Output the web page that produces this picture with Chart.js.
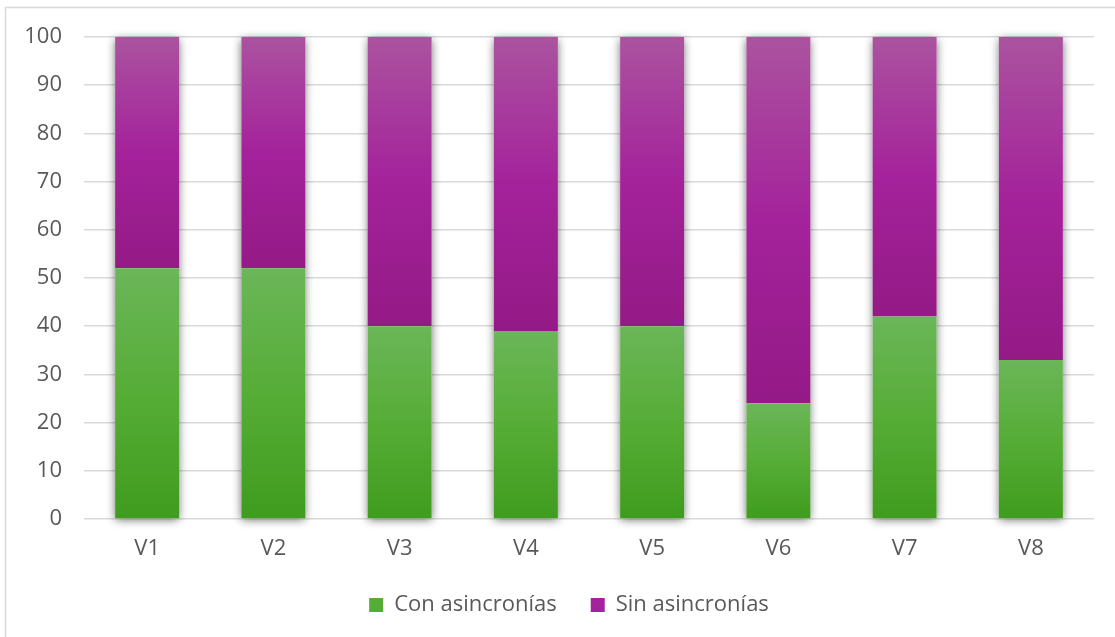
<!DOCTYPE html>
<html>
<head>
<meta charset="utf-8">
<script src="https://cdn.jsdelivr.net/npm/chart.js@4.4.1/dist/chart.umd.min.js"></script>
<style>
  html, body { margin: 0; padding: 0; background: #fff; }
  #wrap { width: 1115px; height: 637px; position: relative; }
</style>
</head>
<body>
<div id="wrap"><canvas id="c" width="1115" height="637"></canvas></div>
<script>
const categories = ['V1', 'V2', 'V3', 'V4', 'V5', 'V6', 'V7', 'V8'];
const conAsincronias = [52, 52, 40, 39, 40, 24, 42, 33];
const sinAsincronias = [48, 48, 60, 61, 60, 76, 58, 67];
const seriesNames = ['Con asincronías', 'Sin asincronías'];

const FONT = "'Open Sans', 'Liberation Sans', sans-serif";
const TEXT = '#595959';

const greenStops = [[0, '#6bb659'], [0.5, '#56ad36'], [1, '#3f9c1e']];
const purpleStops = [[0, '#ab539f'], [0.5, '#a4229b'], [1, '#941a86']];

// vertical gradient spanning one stacked segment
function segmentFill(stops, solid, lowerArr, upperFn) {
  return (ctx) => {
    const chart = ctx.chart;
    if (!chart.chartArea || ctx.dataIndex === undefined) return solid;
    const y = chart.scales.y;
    const i = ctx.dataIndex;
    const low = lowerArr ? lowerArr[i] : 0;
    const high = upperFn(i);
    const top = y.getPixelForValue(high);
    const bottom = y.getPixelForValue(low);
    const g = chart.ctx.createLinearGradient(0, top, 0, bottom);
    stops.forEach(([o, c]) => g.addColorStop(o, c));
    return g;
  };
}

// soft shadow under each full stack, painted before the bars
const stackShadow = {
  id: 'stackShadow',
  beforeDatasetsDraw(chart) {
    const ctx = chart.ctx;
    const m0 = chart.getDatasetMeta(0).data;
    const m1 = chart.getDatasetMeta(1).data;
    ctx.save();
    ctx.shadowColor = 'rgba(0,0,0,0.6)';
    ctx.shadowBlur = 9;
    ctx.shadowOffsetY = 2;
    ctx.fillStyle = '#ffffff';
    m0.forEach((bar, i) => {
      const top = m1[i].y;
      const bottom = bar.base;
      ctx.fillRect(bar.x - bar.width / 2, top, bar.width, bottom - top);
    });
    ctx.restore();
  }
};

// light frame around the chart; legend nudged to sit under the plot centre
const frame = {
  id: 'frame',
  afterLayout(chart) {
    if (chart.legend) {
      chart.legend.left += 22;
      chart.legend.right += 22;
    }
  },
  beforeDraw(chart) {
    const ctx = chart.ctx;
    ctx.save();
    ctx.fillStyle = '#ffffff';
    ctx.fillRect(0, 0, chart.width, chart.height);
    ctx.strokeStyle = '#d9d9d9';
    ctx.lineWidth = 1.5;
    ctx.strokeRect(5.5, 7.5, chart.width + 20, chart.height + 20);
    ctx.restore();
  }
};

new Chart(document.getElementById('c'), {
  type: 'bar',
  data: {
    labels: categories,
    datasets: [
      {
        label: seriesNames[0],
        data: conAsincronias,
        backgroundColor: segmentFill(greenStops, '#56ad36', null, (i) => conAsincronias[i]),
        borderWidth: 0,
        categoryPercentage: 1,
        barPercentage: 0.507
      },
      {
        label: seriesNames[1],
        data: sinAsincronias,
        backgroundColor: segmentFill(purpleStops, '#a4229b', conAsincronias, (i) => conAsincronias[i] + sinAsincronias[i]),
        borderWidth: 0,
        categoryPercentage: 1,
        barPercentage: 0.507
      }
    ]
  },
  options: {
    responsive: false,
    animation: false,
    devicePixelRatio: 1,
    layout: { padding: { top: 37, right: 21, left: 0, bottom: 11 } },
    plugins: {
      tooltip: { enabled: false },
      legend: {
        position: 'bottom',
        labels: {
          color: TEXT,
          font: { family: FONT, size: 22 },
          boxWidth: 14,
          boxHeight: 14,
          padding: 34,
          generateLabels(chart) {
            return seriesNames.map((n, i) => ({
              text: n,
              fillStyle: i === 0 ? '#56ad36' : '#a4229b',
              strokeStyle: 'rgba(0,0,0,0)',
              lineWidth: 0,
              hidden: false,
              datasetIndex: i,
              fontColor: TEXT
            }));
          }
        }
      }
    },
    scales: {
      x: {
        stacked: true,
        grid: { display: false, drawTicks: false },
        border: { display: false },
        ticks: { color: TEXT, font: { family: FONT, size: 22 }, padding: 17 },
        afterFit(scale) { scale.height = 41; }
      },
      y: {
        stacked: true,
        min: 0,
        max: 100,
        ticks: { stepSize: 10, color: TEXT, font: { family: FONT, size: 22 }, padding: 22 },
        grid: { color: '#d9d9d9', lineWidth: 1.5, drawTicks: false },
        border: { display: false },
        afterFit(scale) { scale.width = 84; }
      }
    }
  },
  plugins: [frame, stackShadow]
});
</script>
</body>
</html>
